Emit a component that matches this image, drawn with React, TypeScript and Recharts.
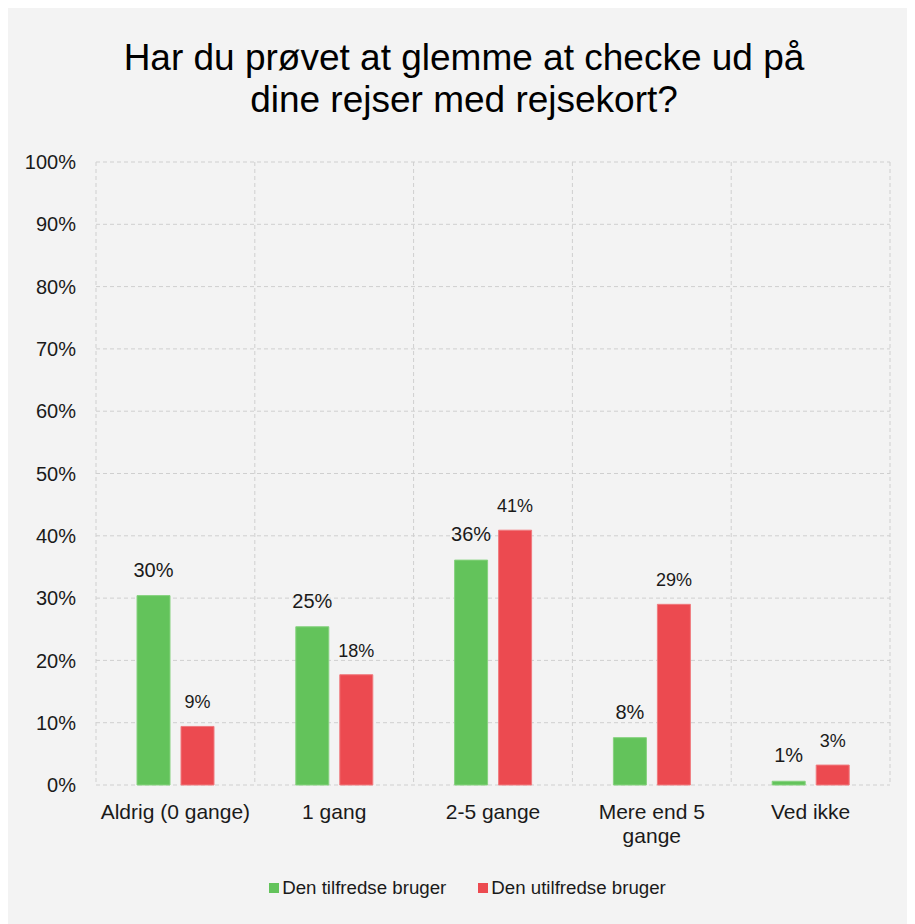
import React from "react";
import {
  BarChart,
  Bar,
  XAxis,
  YAxis,
  CartesianGrid,
  Legend,
  LabelList,
} from "recharts";

const categories = ["Aldrig (0 gange)", "1 gang", "2-5 gange", "Mere end 5\ngange", "Ved ikke"];
const tilfredse = [30.4, 25.4, 36.1, 7.6, 0.6];
const utilfredse = [9.4, 17.7, 40.9, 29.0, 3.2];
const yTicks = [0, 10, 20, 30, 40, 50, 60, 70, 80, 90, 100];

const seriesNames = ["Den tilfredse bruger", "Den utilfredse bruger"];
const GREEN = "#63c35b";
const RED = "#ec4a50";
const FONT = "'Liberation Sans', Arial, Helvetica, sans-serif";

const data = categories.map((c, i) => ({
  name: c,
  tilfredse: tilfredse[i],
  utilfredse: utilfredse[i],
}));

const pct = (v: any) => `${Math.round(Number(v))}%`;

const CategoryTick = (props: any) => {
  const { x, y, payload } = props;
  const lines = String(payload.value).split("\n");
  return (
    <text x={x} y={y + 34} textAnchor="middle" fill="#1a1a1a" fontSize={21} fontFamily={FONT}>
      {lines.map((l, i) => (
        <tspan key={i} x={x} dy={i === 0 ? 0 : 24}>
          {l}
        </tspan>
      ))}
    </text>
  );
};

const LegendContent = () => (
  <div
    style={{
      display: "flex",
      justifyContent: "center",
      alignItems: "center",
      height: 24,
      paddingLeft: 15,
      fontFamily: FONT,
      fontSize: 18.7,
      color: "#1a1a1a",
    }}
  >
    {seriesNames.map((n, i) => (
      <div key={n} style={{ display: "flex", alignItems: "center", marginLeft: i ? 32 : 0 }}>
        <span style={{ width: 10, height: 10, background: i ? RED : GREEN, marginRight: 3 }} />
        <span>{n}</span>
      </div>
    ))}
  </div>
);

export default function App() {
  return (
    <div
      style={{
        position: "relative",
        marginLeft: -3,
        width: 910,
        height: 916,
        background: "#f3f3f3",
        fontFamily: FONT,
      }}
    >
      <div
        style={{
          position: "absolute",
          left: 4,
          top: 29,
          width: 910,
          textAlign: "center",
          fontSize: 37,
          lineHeight: "42px",
          color: "#000",
        }}
      >
        Har du prøvet at glemme at checke ud på
        <br />
        dine rejser med rejsekort?
      </div>
      <BarChart
        width={910}
        height={916}
        data={data}
        margin={{ top: 154, right: 25, bottom: 24, left: 21 }}
        barSize={33}
        barGap={11}
      >
        <CartesianGrid
          stroke="#cfcfcf"
          strokeDasharray="4 3"
          verticalCoordinatesGenerator={({ offset }: any) =>
            categories.concat([""]).map((_, i) => offset.left + (i * offset.width) / categories.length)
          }
        />
        <XAxis
          dataKey="name"
          axisLine={false}
          tickLine={false}
          tickSize={0}
          tickMargin={0}
          height={91}
          interval={0}
          tick={<CategoryTick />}
        />
        <YAxis
          domain={[0, 100]}
          ticks={yTicks}
          tickFormatter={(v) => `${v}%`}
          axisLine={false}
          tickLine={false}
          tickSize={0}
          tickMargin={20}
          width={70}
          tick={{ fill: "#1a1a1a", fontSize: 20, fontFamily: FONT }}
        />
        <Legend verticalAlign="bottom" content={<LegendContent />} wrapperStyle={{ left: 0, width: 910 }} />
        <Bar dataKey="tilfredse" name={seriesNames[0]} fill={GREEN} stroke="#86d27f" strokeWidth={1} isAnimationActive={false}>
          <LabelList dataKey="tilfredse" position="top" offset={19} formatter={pct} fill="#1a1a1a" fontSize={20} fontFamily={FONT} />
        </Bar>
        <Bar dataKey="utilfredse" name={seriesNames[1]} fill={RED} stroke="#f07a7e" strokeWidth={1} isAnimationActive={false}>
          <LabelList dataKey="utilfredse" position="top" offset={18} formatter={pct} fill="#1a1a1a" fontSize={18} fontFamily={FONT} />
        </Bar>
      </BarChart>
    </div>
  );
}
